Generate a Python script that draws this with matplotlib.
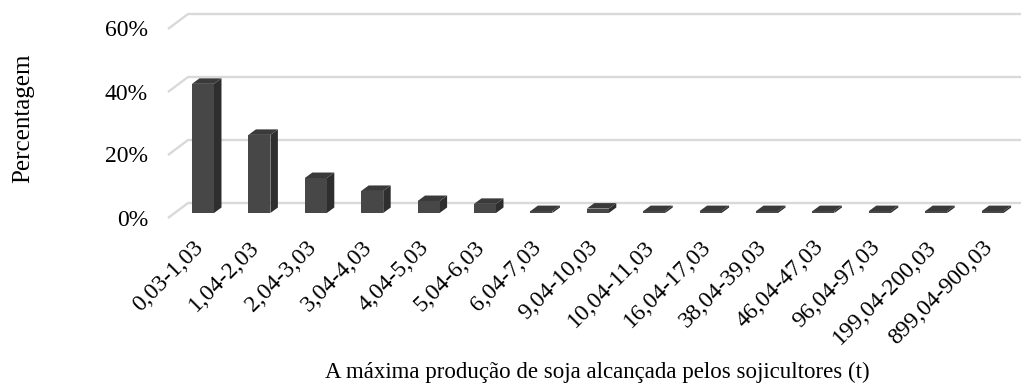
import matplotlib.pyplot as plt
from matplotlib.patches import Polygon

plt.rcParams['font.family'] = ['Liberation Serif', 'DejaVu Serif']

# faixas de producao (t) e percentagem de sojicultores
categorias = ['0,03-1,03', '1,04-2,03', '2,04-3,03', '3,04-4,03', '4,04-5,03',
              '5,04-6,03', '6,04-7,03', '9,04-10,03', '10,04-11,03', '16,04-17,03',
              '38,04-39,03', '46,04-47,03', '96,04-97,03', '199,04-200,03',
              '899,04-900,03']
percentagem = [41.0, 24.8, 11.1, 7.0, 3.8, 2.9, 0.6, 1.4, 0.6, 0.6,
               0.6, 0.6, 0.6, 0.6, 0.6]
ticks_y = [0, 20, 40, 60]

# escala: 1 categoria = 56.4 px, 1% = 3.15 px
PX_X = 1 / 56.4
PX_Y = 1 / 3.15

fig = plt.figure(figsize=(10.21, 3.9), dpi=100)
ax = fig.add_axes([0, 0, 1, 1])
ax.set_xlim(-203 * PX_X, (1021 - 203) * PX_X)
ax.set_ylim(-(390 - 213) * PX_Y, 213 * PX_Y)
ax.axis('off')

grid_c = '#d9d9d9'
x_front = -35 * PX_X
x_back = -15 * PX_X
x_end = (1021 - 203) * PX_X
for v in ticks_y:
    yb = v + 10 * PX_Y
    yf = v - 5 * PX_Y
    ax.plot([x_front, x_back, x_end], [yf, yb, yb], color=grid_c, lw=1.7,
            solid_capstyle='butt', zorder=1)
    ax.text(-55 * PX_X, v - 7 * PX_Y, f'{v}%', ha='right', va='center',
            fontsize=17)

# barras 3D: face frontal + lateral + topo
larg = 22 * PX_X
dx = 7.5 * PX_X
dy = 5.5 * PX_Y
xs = list(range(len(categorias)))
ax.bar(xs, percentagem, width=larg, color='#474747', zorder=3)
for x, h in zip(xs, percentagem):
    l = x - larg / 2
    r = x + larg / 2
    ax.add_patch(Polygon([(r, 0), (r + dx, dy), (r + dx, h + dy), (r, h)],
                         closed=True, color='#2e2e2e', lw=0, zorder=2))
    ax.add_patch(Polygon([(l, h), (r, h), (r + dx, h + dy), (l + dx, h + dy)],
                         closed=True, color='#3a3a3a', lw=0, zorder=2))
    ax.text(x - 3 * PX_X, -31 * PX_Y, categorias[x], rotation=45,
            rotation_mode='anchor', ha='right', va='center', fontsize=17)

ax.text((597 - 203) * PX_X, -(372 - 213) * PX_Y,
        'A máxima produção de soja alcançada pelos sojicultores (t)',
        ha='center', va='center', fontsize=16.5)
ax.text(-180 * PX_X, (213 - 118) * PX_Y, 'Percentagem', rotation=90,
        ha='center', va='center', fontsize=18)

fig.savefig('out.png', dpi=100)
